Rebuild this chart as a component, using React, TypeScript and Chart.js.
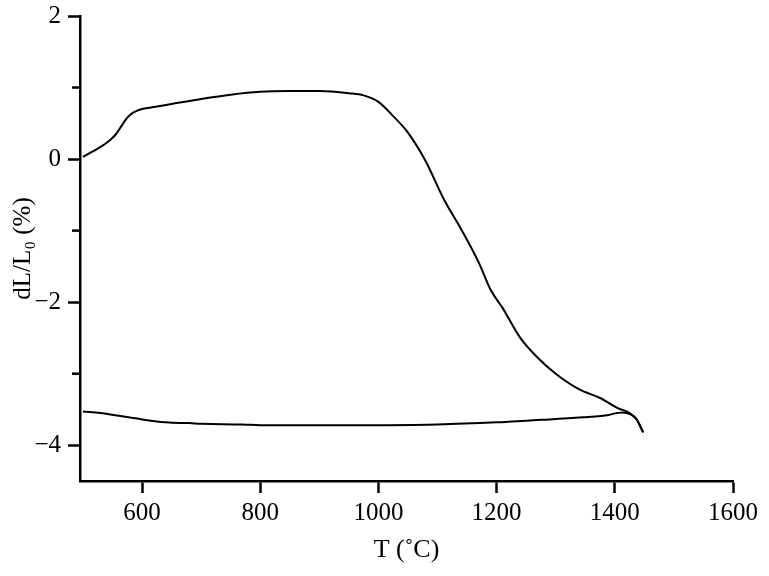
import React, { useEffect, useRef } from "react";
import { Chart, registerables } from "chart.js";

Chart.register(...registerables);

const heatT = [500, 515, 530, 545, 555, 565, 573, 580, 590, 600, 615, 650, 700, 750, 800, 850, 900, 950, 975, 1000, 1025, 1050, 1080, 1110, 1140, 1170, 1190, 1210, 1240, 1270, 1300, 1340, 1375, 1405, 1425, 1438, 1448];
const heatDL = [0.03, 0.1, 0.17, 0.26, 0.34, 0.46, 0.56, 0.62, 0.67, 0.7, 0.72, 0.77, 0.84, 0.9, 0.94, 0.95, 0.95, 0.92, 0.89, 0.8, 0.6, 0.37, -0.03, -0.55, -0.98, -1.45, -1.83, -2.08, -2.5, -2.78, -3.0, -3.22, -3.34, -3.48, -3.55, -3.65, -3.82];

const coolT = [1448, 1442, 1434, 1420, 1404, 1387, 1346, 1290, 1262, 1200, 1100, 1000, 900, 800, 770, 700, 680, 640, 585, 530, 500];
const coolDL = [-3.82, -3.72, -3.61, -3.55, -3.55, -3.58, -3.61, -3.64, -3.65, -3.68, -3.71, -3.72, -3.72, -3.72, -3.71, -3.7, -3.69, -3.68, -3.62, -3.55, -3.53];

const xTicks = [600, 800, 1000, 1200, 1400, 1600];
const yTicks = [-4, -2, 0, 2];
const yMinorTicks = [-3, -1, 1];

const FONT = "'Liberation Serif', 'Times New Roman', serif";

export default function App() {
  const ref = useRef<HTMLCanvasElement>(null);
  useEffect(() => {
    document.body.style.margin = "0";
    const minorPlugin = {
      id: "minorTicks",
      afterDraw(chart: any) {
        const y = chart.scales.y;
        const ctx = chart.ctx;
        ctx.save();
        ctx.strokeStyle = "#000";
        ctx.lineWidth = 2.5;
        yMinorTicks.forEach((v) => {
          const py = y.getPixelForValue(v);
          ctx.beginPath();
          ctx.moveTo(chart.chartArea.left - 8, py);
          ctx.lineTo(chart.chartArea.left, py);
          ctx.stroke();
        });
        ctx.restore();
      },
    };
    const chart = new Chart(ref.current!, {
      type: "scatter",
      data: {
        datasets: [
          {
            data: heatT.map((t, i) => ({ x: t, y: heatDL[i] })),
            showLine: true,
            borderColor: "#000",
            borderWidth: 2,
            pointRadius: 0,
            cubicInterpolationMode: "monotone",
          },
          {
            data: coolT.map((t, i) => ({ x: t, y: coolDL[i] })),
            showLine: true,
            borderColor: "#000",
            borderWidth: 2,
            pointRadius: 0,
            tension: 0.4,
          },
        ],
      },
      options: {
        animation: false,
        responsive: false,
        layout: { padding: { top: 16, right: 36, left: 0, bottom: 0 } },
        plugins: { legend: { display: false }, tooltip: { enabled: false } },
        scales: {
          x: {
            type: "linear",
            min: 495,
            max: 1600,
            afterBuildTicks: (s: any) => {
              s.ticks = xTicks.map((v) => ({ value: v }));
            },
            afterFit: (s: any) => {
              s.height = 95;
            },
            grid: { drawOnChartArea: false, drawTicks: true, tickLength: 12, tickWidth: 2.5, tickColor: "#000" },
            border: { display: true, color: "#000", width: 2.5 },
            ticks: { color: "#000", font: { family: FONT, size: 25 }, padding: 5, maxRotation: 0, callback: (v: any) => String(v) },
            title: { display: true, text: "T (˚C)", color: "#000", font: { family: FONT, size: 26 }, padding: { top: 2, bottom: 10 } },
          },
          y: {
            type: "linear",
            min: -4.5,
            max: 2,
            afterBuildTicks: (s: any) => {
              s.ticks = yTicks.map((v) => ({ value: v }));
            },
            afterFit: (s: any) => {
              s.width = 80;
              s.paddingTop = 0;
              s.paddingBottom = 0;
            },
            grid: { drawOnChartArea: false, drawTicks: true, tickLength: 12, tickWidth: 2.5, tickColor: "#000" },
            border: { display: true, color: "#000", width: 2.5 },
            ticks: {
              color: "#000",
              font: { family: FONT, size: 25 },
              padding: 7,
              callback: (v: any) => String(v).replace("-", "\u2212"),
            },
            title: { display: true, text: "dL/L\u2080 (%)", color: "#000", font: { family: FONT, size: 25 }, padding: { top: 8, bottom: 0 } },
          },
        },
      },
      plugins: [minorPlugin],
    });
    return () => chart.destroy();
  }, []);
  return (
    <div style={{ width: 769, height: 576, background: "#fff" }}>
      <canvas ref={ref} width={769} height={576} style={{ display: "block" }} />
    </div>
  );
}
